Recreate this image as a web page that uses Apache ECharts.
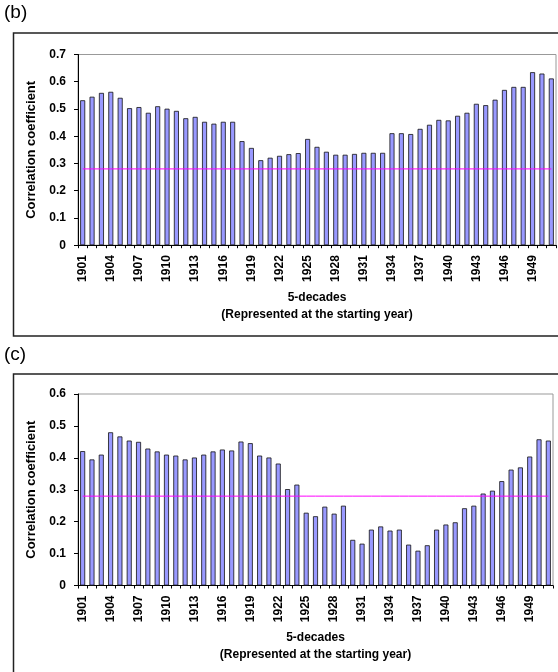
<!DOCTYPE html>
<html>
<head>
<meta charset="utf-8">
<script src="https://cdn.jsdelivr.net/npm/echarts@6/dist/echarts.min.js"></script>
<style>
html,body{margin:0;padding:0;background:#fff;}
#c{width:558px;height:672px;}
</style>
</head>
<body>
<div id="c"></div>
<script>
const years = ['1901','1902','1903','1904','1905','1906','1907','1908','1909','1910',
  '1911','1912','1913','1914','1915','1916','1917','1918','1919','1920',
  '1921','1922','1923','1924','1925','1926','1927','1928','1929','1930',
  '1931','1932','1933','1934','1935','1936','1937','1938','1939','1940',
  '1941','1942','1943','1944','1945','1946','1947','1948','1949','1950','1951'];

const corrB = [0.532,0.545,0.559,0.563,0.541,0.503,0.507,0.486,0.510,0.501,
  0.493,0.466,0.471,0.453,0.446,0.453,0.453,0.382,0.357,0.312,
  0.321,0.328,0.334,0.338,0.390,0.361,0.343,0.332,0.332,0.335,
  0.339,0.339,0.339,0.411,0.411,0.408,0.427,0.442,0.460,0.458,
  0.475,0.486,0.519,0.514,0.534,0.570,0.581,0.581,0.635,0.630,0.612];

const corrC = [0.421,0.395,0.410,0.480,0.467,0.454,0.450,0.429,0.420,0.410,
  0.407,0.395,0.401,0.410,0.420,0.426,0.423,0.451,0.446,0.407,
  0.401,0.382,0.302,0.316,0.228,0.217,0.247,0.225,0.250,0.143,
  0.131,0.175,0.185,0.172,0.175,0.128,0.109,0.126,0.175,0.191,
  0.198,0.242,0.250,0.288,0.297,0.327,0.363,0.370,0.404,0.458,0.454];

const significance = 0.28;
const yTicksB = {min: 0, max: 0.7, interval: 0.1};
const yTicksC = {min: 0, max: 0.6, interval: 0.1};
const panelLabels = ['(b)', '(c)'];
const xName = '5-decades\n(Represented at the starting year)';
const yName = 'Correlation coefficient';

const FONT = "'Liberation Sans', Arial, sans-serif";
const sigLine = years.map(() => significance);

function xAxis(gi) {
  return {
    type: 'category', gridIndex: gi, data: years, boundaryGap: true,
    axisLine: {lineStyle: {color: '#000', width: 1}},
    axisTick: {show: true, interval: 0, length: 3, lineStyle: {color: '#000'}},
    axisLabel: {interval: 2, rotate: 90, margin: 10, color: '#000', fontFamily: FONT, fontWeight: 'bold', fontSize: 12},
    name: xName, nameLocation: 'middle', nameGap: 44,
    nameTextStyle: {color: '#000', fontFamily: FONT, fontWeight: 'bold', fontSize: 12, lineHeight: 17}
  };
}
function yAxis(gi, t) {
  return {
    type: 'value', gridIndex: gi, min: t.min, max: t.max, interval: t.interval,
    axisLine: {show: true, lineStyle: {color: '#000', width: 1}},
    axisTick: {show: true, length: 4, lineStyle: {color: '#000'}},
    splitLine: {show: false},
    axisLabel: {margin: 12, color: '#000', fontFamily: FONT, fontWeight: 'bold', fontSize: 12,
      formatter: v => v === 0 ? '0' : v.toFixed(1)},
    name: yName, nameLocation: 'middle', nameGap: 29,
    nameTextStyle: {color: '#000', fontFamily: FONT, fontWeight: 'bold', fontSize: 13}
  };
}
function bars(gi, data) {
  return {
    type: 'bar', xAxisIndex: gi, yAxisIndex: gi, data: data, barWidth: 5,
    itemStyle: {color: '#9999ff', borderColor: '#111', borderWidth: 0.8},
    silent: true, animation: false
  };
}
function sig(gi) {
  return {
    type: 'line', xAxisIndex: gi, yAxisIndex: gi, data: sigLine, showSymbol: false, symbol: 'none',
    lineStyle: {color: '#ff00ff', width: 1}, silent: true, animation: false, z: 5
  };
}

const chart = echarts.init(document.getElementById('c'), null, {renderer: 'canvas'});
chart.setOption({
  backgroundColor: '#fff',
  animation: false,
  grid: [
    {left: 78, top: 54.5, width: 478, height: 190.7, show: true, borderColor: '#999', borderWidth: 1, containLabel: false},
    {left: 78, top: 394, width: 475, height: 191.5, show: true, borderColor: '#999', borderWidth: 1, containLabel: false}
  ],
  xAxis: [xAxis(0), xAxis(1)],
  yAxis: [yAxis(0, yTicksB), yAxis(1, yTicksC)],
  series: [bars(0, corrB), sig(0), bars(1, corrC), sig(1)],
  graphic: [
    {type: 'rect', shape: {x: 13.5, y: 33, width: 570, height: 303}, style: {fill: 'none', stroke: '#222', lineWidth: 1.5}, silent: true},
    {type: 'rect', shape: {x: 13.5, y: 374, width: 570, height: 330}, style: {fill: 'none', stroke: '#222', lineWidth: 1.5}, silent: true},
    {type: 'text', left: 4, top: 3, style: {text: panelLabels[0], font: '19px ' + FONT, fill: '#000'}},
    {type: 'text', left: 4, top: 345, style: {text: panelLabels[1], font: '19px ' + FONT, fill: '#000'}}
  ]
});
</script>
</body>
</html>
